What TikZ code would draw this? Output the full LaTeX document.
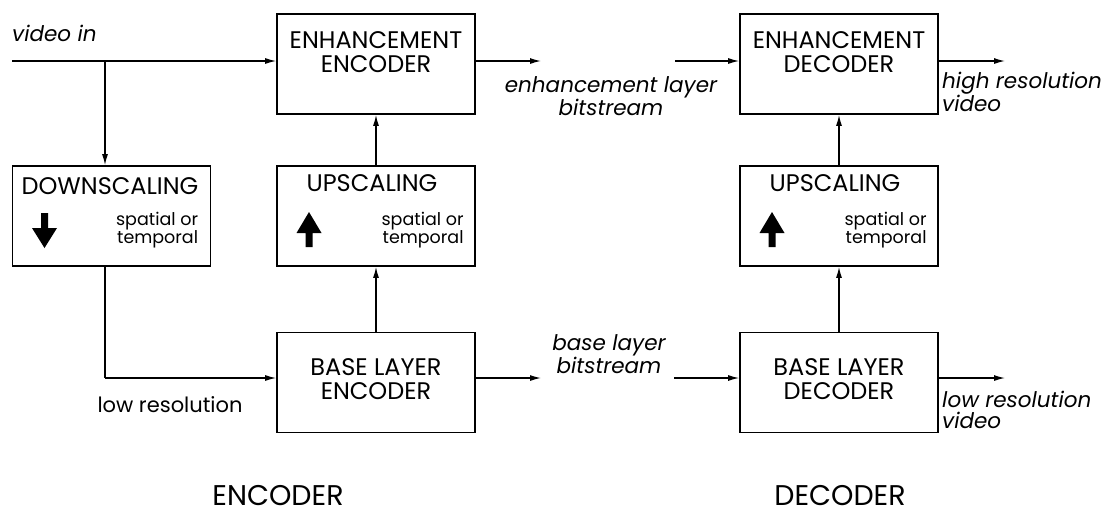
\documentclass[tikz,border=0pt]{standalone}
\usepackage{fontspec}
\setmainfont{Poppins}
\usetikzlibrary{arrows.meta}

\tikzset{
  block/.style={draw, line width=1.6pt, minimum width=198pt, minimum height=100pt, inner sep=0pt},
  title/.style={font=\fontsize{24}{24}\selectfont, align=center, inner sep=0pt},
  caption/.style={font=\fontsize{28.5}{28.5}\selectfont, anchor=base, inner sep=0pt, text depth=0pt},
  small/.style={font=\fontsize{17.5}{17.5}\selectfont, align=right, anchor=east, inner sep=0pt},
  lbl/.style={font=\fontsize{21.5}{21.5}\selectfont\itshape, inner sep=0pt},
  arr/.style={-{Latex[length=11pt,width=6pt]}, line width=1.3pt},
  pics/upsign/.style={code={
    \fill (-3.5,0) -- (-3.5,-14) -- (-12.5,-14) -- (0,-35) -- (12.5,-14) -- (3.5,-14) -- (3.5,0) -- cycle;}},
  pics/downsign/.style={code={
    \fill (-3.5,0) -- (-3.5,15) -- (-12.5,15) -- (0,35) -- (12.5,15) -- (3.5,15) -- (3.5,0) -- cycle;}}
}

\begin{document}
\begin{tikzpicture}[x=1pt, y=-1pt]
  \useasboundingbox (0,0) rectangle (1108,515);

  % Encoder blocks
  \node[block] (enhenc) at (376,64) {};
  \node[title] (enhenc-txt) at (376,52) {ENHANCEMENT\\ENCODER};
  \node[block] (down) at (111.5,216) {};
  \node[title] (down-txt) at (110,186) {DOWNSCALING};
  \node[block] (upenc) at (376,216) {};
  \node[title] (upenc-txt) at (372,183) {UPSCALING};
  \node[block] (baseenc) at (376,382.5) {};
  \node[title] (baseenc-txt) at (376,379) {BASE LAYER\\ENCODER};

  % Decoder blocks
  \node[block] (enhdec) at (839,64) {};
  \node[title] (enhdec-txt) at (839,52) {ENHANCEMENT\\DECODER};
  \node[block] (updec) at (839,216) {};
  \node[title] (updec-txt) at (835,183) {UPSCALING};
  \node[block] (basedec) at (839,382.5) {};
  \node[title] (basedec-txt) at (839,379) {BASE LAYER\\DECODER};

  % Scaling hints
  \node[small] (down-hint) at ([xshift=-13pt,yshift=-14pt]down.east) {spatial or\\temporal};
  \node[small] (upenc-hint) at ([xshift=-12pt,yshift=-14pt]upenc.east) {spatial or\\temporal};
  \node[small] (updec-hint) at ([xshift=-12pt,yshift=-14pt]updec.east) {spatial or\\temporal};
  \pic at (44.5,213) {downsign};
  \pic at (309,247) {upsign};
  \pic at (772,247) {upsign};

  % Input and branch
  \coordinate (vin) at (12,61);
  \coordinate (split) at (105,61);
  \coordinate (corner) at (105,378);
  \node[lbl, anchor=west] (vin-txt) at (12,33) {video in};
  \draw[arr] (vin) -- ([yshift=3pt]enhenc.west);
  \draw[arr] (split) -- (split |- down.north);
  \draw[line width=1.3pt] (split |- down.south) -- (corner);
  \draw[arr] (corner) -- ([yshift=4.5pt]baseenc.west);
  \node[font=\fontsize{21}{21}\selectfont, inner sep=0pt] (lowres) at (170,405) {low resolution};

  % Upward connections
  \draw[arr] (baseenc.north) -- (upenc.south);
  \draw[arr] (upenc.north) -- (enhenc.south);
  \draw[arr] (basedec.north) -- (updec.south);
  \draw[arr] (updec.north) -- (enhdec.south);

  % Bitstreams
  \coordinate (enh-out) at (541,61);
  \coordinate (enh-in) at (675,61);
  \coordinate (base-out) at (541,378);
  \coordinate (base-in) at (674,378);
  \draw[arr] ([yshift=3pt]enhenc.east) -- (enh-out);
  \draw[arr] (enh-in) -- ([yshift=3pt]enhdec.west);
  \draw[arr] ([yshift=4.5pt]baseenc.east) -- (base-out);
  \draw[arr] (base-in) -- ([yshift=4.5pt]basedec.west);
  \node[lbl, align=center] (enh-txt) at (611,96) {enhancement layer\\bitstream};
  \node[lbl, align=center] (base-txt) at (609,354) {base layer\\bitstream};

  % Outputs
  \coordinate (hi-out) at (1005,61);
  \coordinate (lo-out) at (1005,378);
  \draw[arr] ([yshift=3pt]enhdec.east) -- (hi-out);
  \draw[arr] ([yshift=4.5pt]basedec.east) -- (lo-out);
  \node[lbl, align=left, anchor=west] (hi-txt) at (942,92) {high resolution\\video};
  \node[lbl, align=left, anchor=west] (lo-txt) at (942,410) {low resolution\\video};

  % Captions
  \node[caption] (enc-cap) at (278,505) {ENCODER};
  \node[caption] (dec-cap) at (840,505) {DECODER};
\end{tikzpicture}
\end{document}
